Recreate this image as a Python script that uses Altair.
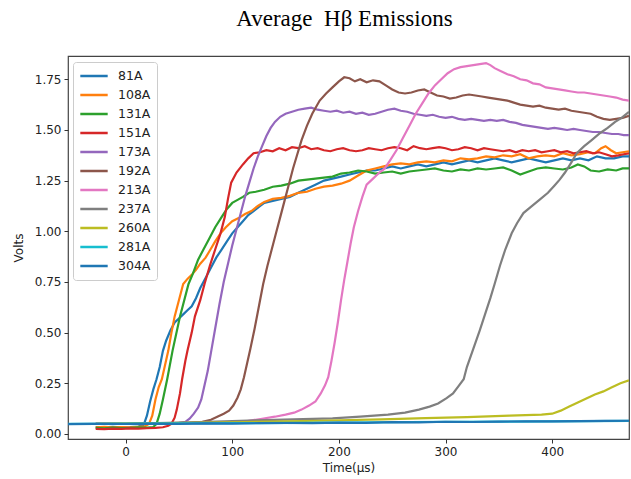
import altair as alt
import pandas as pd

SERIES = ["81A", "108A", "131A", "151A", "173A", "192A", "213A", "237A", "260A", "281A", "304A"]
COLORS = ["#1f77b4", "#ff7f0e", "#2ca02c", "#d62728", "#9467bd", "#8c564b",
          "#e377c2", "#7f7f7f", "#bcbd22", "#17becf", "#1f77b4"]
X_TICKS = [0, 100, 200, 300, 400]
Y_TICKS = [0.0, 0.25, 0.5, 0.75, 1.0, 1.25, 1.5, 1.75]

S81 = [(-28,0.034),(-20,0.032),(-12,0.035),(-4,0.033),(4,0.034),(12,0.036),(17,0.045),(20,0.09),(23,0.16),(26,0.22),
       (29,0.27),(32,0.33),(35,0.41),(38,0.46),(42,0.51),(46,0.55),(50,0.57),(54,0.59),(58,0.61),(62,0.63),(66,0.67),
       (70,0.72),(75,0.77),(80,0.82),(85,0.87),(90,0.91),(95,0.95),(100,0.99),(105,1.02),(110,1.05),(115,1.08),(120,1.10),
       (125,1.12),(130,1.14),(138,1.15),(146,1.16),(154,1.17),(162,1.19),(170,1.21),(178,1.23),(186,1.25),(194,1.26),
       (202,1.27),(210,1.28),(218,1.29),(226,1.30),(234,1.30),(242,1.31),(250,1.32),(258,1.31),(266,1.32),(274,1.33),
       (282,1.32),(290,1.33),(298,1.34),(306,1.33),(314,1.34),(322,1.35),(330,1.34),(338,1.35),(346,1.36),(354,1.35),
       (362,1.34),(370,1.35),(378,1.36),(386,1.35),(394,1.34),(402,1.35),(410,1.36),(418,1.35),(426,1.36),(434,1.35),
       (442,1.37),(450,1.36),(458,1.36),(466,1.37),(472,1.37)]
S108 = [(-28,0.033),(-20,0.035),(-12,0.033),(-4,0.034),(4,0.033),(12,0.035),(18,0.037),(22,0.05),(25,0.09),(28,0.17),
        (31,0.23),(34,0.27),(37,0.34),(40,0.41),(43,0.5),(46,0.58),(50,0.66),(54,0.74),(58,0.765),(62,0.785),(66,0.81),
        (70,0.84),(75,0.87),(79,0.905),(84,0.95),(89,0.99),(94,1.02),(100,1.05),(106,1.065),(112,1.085),(118,1.10),
        (124,1.125),(130,1.145),(138,1.16),(146,1.165),(154,1.175),(162,1.19),(170,1.195),(178,1.21),(186,1.22),
        (194,1.225),(202,1.235),(210,1.25),(218,1.275),(226,1.30),(234,1.31),(242,1.32),(250,1.33),(258,1.335),
        (266,1.33),(274,1.34),(282,1.345),(290,1.34),(298,1.35),(306,1.345),(314,1.36),(322,1.355),(330,1.36),
        (338,1.37),(346,1.365),(354,1.375),(362,1.37),(370,1.38),(378,1.36),(386,1.37),(394,1.375),(402,1.37),
        (410,1.385),(418,1.375),(426,1.38),(434,1.39),(440,1.385),(446,1.41),(450,1.42),(455,1.40),(460,1.385),
        (466,1.39),(472,1.395)]
S131 = [(-28,0.03),(-20,0.028),(-12,0.031),(-4,0.029),(4,0.03),(12,0.032),(20,0.031),(26,0.034),(29,0.05),(32,0.1),
        (35,0.17),(39,0.27),(44,0.41),(51,0.58),(55,0.66),(59,0.74),(63,0.79),(68,0.86),(73,0.91),(78,0.96),(84,1.02),
        (90,1.07),(95,1.11),(100,1.14),(105,1.155),(110,1.17),(116,1.19),(122,1.195),(130,1.205),(138,1.22),
        (146,1.225),(154,1.235),(162,1.25),(170,1.255),(178,1.26),(186,1.265),(194,1.27),(202,1.285),(210,1.29),
        (218,1.30),(226,1.295),(234,1.285),(242,1.29),(250,1.295),(258,1.285),(266,1.295),(274,1.30),(282,1.305),
        (290,1.31),(298,1.30),(306,1.295),(314,1.305),(322,1.30),(330,1.31),(338,1.305),(346,1.31),(354,1.315),
        (362,1.30),(370,1.28),(378,1.295),(386,1.31),(394,1.315),(402,1.31),(410,1.305),(418,1.315),(424,1.33),
        (430,1.32),(436,1.30),(444,1.295),(452,1.305),(460,1.30),(466,1.31),(472,1.31)]
S151 = [(-28,0.025),(-20,0.024),(-12,0.026),(-4,0.025),(4,0.027),(12,0.026),(20,0.028),(28,0.03),(35,0.033),(40,0.04),
        (43,0.05),(46,0.08),(48,0.12),(51,0.2),(53,0.27),(56,0.36),(58,0.41),(62,0.5),(65,0.58),(70,0.66),(74,0.74),
        (79,0.83),(84,0.91),(89,0.99),(93,1.07),(96,1.16),(99,1.24),(104,1.29),(110,1.33),(115,1.36),(120,1.385),
        (126,1.39),(132,1.40),(138,1.395),(144,1.41),(150,1.40),(156,1.415),(162,1.41),(168,1.42),(174,1.405),
        (180,1.41),(186,1.40),(192,1.395),(198,1.405),(204,1.41),(210,1.40),(216,1.395),(222,1.40),(228,1.41),
        (234,1.405),(240,1.40),(246,1.41),(252,1.415),(258,1.41),(264,1.40),(270,1.42),(276,1.41),(282,1.405),
        (288,1.41),(294,1.415),(300,1.41),(306,1.40),(312,1.405),(318,1.415),(324,1.41),(330,1.40),(336,1.41),
        (342,1.405),(348,1.40),(354,1.395),(360,1.40),(366,1.39),(372,1.40),(378,1.395),(384,1.40),(390,1.39),
        (396,1.395),(402,1.40),(408,1.39),(414,1.395),(420,1.385),(426,1.39),(432,1.395),(438,1.385),(444,1.39),
        (450,1.38),(456,1.37),(462,1.375),(467,1.38),(472,1.385)]
S173 = [(-28,0.05),(0,0.05),(20,0.052),(40,0.053),(50,0.055),(56,0.06),(60,0.075),(64,0.1),(68,0.13),(71,0.17),
        (74,0.24),(77,0.31),(80,0.4),(84,0.52),(88,0.64),(92,0.75),(96,0.84),(100,0.93),(104,1.01),(108,1.09),
        (112,1.17),(116,1.24),(120,1.31),(124,1.37),(128,1.42),(132,1.47),(136,1.51),(140,1.54),(145,1.565),
        (150,1.58),(156,1.59),(162,1.60),(168,1.605),(174,1.61),(180,1.60),(186,1.595),(192,1.59),(198,1.595),
        (204,1.585),(210,1.59),(216,1.58),(222,1.585),(228,1.575),(234,1.58),(240,1.59),(246,1.60),(252,1.605),
        (258,1.595),(264,1.59),(270,1.58),(276,1.575),(282,1.57),(288,1.575),(294,1.565),(300,1.56),(306,1.565),
        (312,1.555),(318,1.55),(324,1.555),(330,1.55),(336,1.545),(342,1.55),(348,1.545),(354,1.55),(360,1.54),
        (366,1.535),(372,1.525),(378,1.52),(384,1.515),(390,1.51),(396,1.505),(402,1.51),(408,1.505),(414,1.50),
        (420,1.505),(426,1.50),(432,1.495),(438,1.49),(444,1.49),(450,1.485),(456,1.48),(462,1.48),(467,1.475),
        (472,1.475)]
S192 = [(-28,0.05),(0,0.05),(30,0.052),(60,0.055),(72,0.06),(80,0.07),(86,0.085),(92,0.1),(97,0.115),(101,0.14),
        (105,0.18),(108,0.22),(111,0.28),(114,0.35),(117,0.42),(121,0.52),(125,0.63),(129,0.74),(133,0.83),(137,0.91),
        (141,0.99),(145,1.07),(149,1.15),(153,1.23),(157,1.31),(161,1.38),(165,1.45),(170,1.52),(175,1.58),
        (182,1.645),(188,1.68),(194,1.71),(200,1.74),(205,1.76),(210,1.755),(215,1.74),(220,1.75),(226,1.735),
        (232,1.745),(238,1.74),(244,1.72),(250,1.70),(256,1.685),(262,1.68),(268,1.685),(274,1.695),(280,1.70),
        (286,1.685),(292,1.67),(298,1.665),(304,1.655),(310,1.66),(316,1.67),(322,1.675),(328,1.67),(334,1.665),
        (340,1.66),(346,1.655),(352,1.65),(358,1.645),(364,1.635),(370,1.625),(376,1.62),(382,1.615),(388,1.62),
        (394,1.61),(400,1.605),(406,1.60),(412,1.605),(418,1.595),(424,1.59),(430,1.585),(436,1.58),(442,1.565),
        (448,1.555),(454,1.55),(460,1.555),(466,1.56),(472,1.57)]
S213 = [(-28,0.05),(20,0.05),(60,0.052),(90,0.055),(110,0.06),(128,0.075),(140,0.085),(150,0.095),(158,0.105),
        (165,0.12),(172,0.14),(178,0.16),(183,0.2),(187,0.24),(190,0.28),(193,0.36),(196,0.45),(199,0.55),(202,0.66),
        (205,0.76),(208,0.85),(211,0.94),(214,1.02),(218,1.1),(222,1.17),(226,1.23),(232,1.26),(238,1.29),(243,1.31),
        (248,1.35),(254,1.40),(260,1.46),(266,1.52),(272,1.58),(278,1.63),(284,1.68),(290,1.72),(296,1.75),(302,1.78),
        (308,1.80),(314,1.81),(320,1.815),(326,1.82),(332,1.825),(338,1.83),(342,1.82),(346,1.805),(352,1.79),
        (358,1.775),(364,1.765),(370,1.75),(376,1.745),(382,1.73),(388,1.725),(394,1.71),(400,1.705),(406,1.70),
        (412,1.695),(418,1.69),(424,1.685),(430,1.685),(436,1.68),(442,1.675),(448,1.67),(454,1.665),(460,1.66),
        (466,1.65),(472,1.645)]
S237 = [(-28,0.05),(20,0.052),(78,0.06),(130,0.068),(194,0.077),(220,0.085),(246,0.095),(262,0.105),(275,0.12),
        (285,0.135),(293,0.15),(301,0.177),(307,0.2),(312,0.235),(317,0.27),(320,0.33),(326,0.42),(332,0.51),
        (337,0.59),(342,0.67),(346,0.74),(351,0.83),(356,0.91),(362,0.99),(367,1.04),(373,1.09),(380,1.12),
        (388,1.155),(396,1.19),(402,1.225),(407,1.255),(412,1.29),(418,1.34),(423,1.385),(430,1.42),(437,1.45),
        (445,1.485),(452,1.51),(459,1.54),(465,1.56),(472,1.59)]
S260 = [(-28,0.05),(40,0.053),(112,0.059),(180,0.065),(240,0.072),(281,0.078),(320,0.083),(360,0.09),(390,0.095),
        (400,0.10),(408,0.115),(416,0.135),(424,0.155),(432,0.175),(440,0.195),(448,0.21),(456,0.23),(464,0.25),
        (472,0.265)]
S281 = [(-54,0.05),(0,0.051),(100,0.053),(200,0.056),(300,0.06),(400,0.062),(472,0.064)]
S304 = [(-54,0.048),(-30,0.05),(0,0.049),(25,0.051),(50,0.05),(75,0.052),(100,0.051),(125,0.053),(150,0.054),
        (175,0.053),(200,0.056),(225,0.055),(250,0.058),(275,0.057),(300,0.06),(325,0.059),(350,0.061),(375,0.062),
        (400,0.062),(425,0.063),(450,0.064),(472,0.065)]

ALL = [S81, S108, S131, S151, S173, S192, S213, S237, S260, S281, S304]

rows = []
for idx, (name, pts) in enumerate(zip(SERIES, ALL)):
    for t, v in pts:
        rows.append({"series": name, "t": t, "v": v, "k": idx})
df = pd.DataFrame(rows)

chart = alt.Chart(df).mark_line(strokeWidth=2.2, clip=True).encode(
    x=alt.X("t:Q", title="Time(μs)",
            scale=alt.Scale(domain=[-54, 472], nice=False, zero=False),
            axis=alt.Axis(values=X_TICKS, format="d")),
    y=alt.Y("v:Q", title="Volts",
            scale=alt.Scale(domain=[-0.025, 1.865], nice=False, zero=False),
            axis=alt.Axis(values=Y_TICKS, format=".2f")),
    color=alt.Color("series:N", scale=alt.Scale(domain=SERIES, range=COLORS),
                    legend=alt.Legend(title=None, orient="none", legendX=5, legendY=6,
                                      symbolType="stroke", symbolSize=750, symbolStrokeWidth=2.5,
                                      clipHeight=16, rowPadding=3, labelOffset=9,
                                      padding=6, strokeColor="#cccccc", fillColor="white",
                                      cornerRadius=3, labelFontSize=12.5, labelFont="DejaVu Sans",
                                      labelColor="#222222")),
    order=alt.Order("k:Q"),
).properties(
    width=561, height=383,
    autosize=alt.AutoSizeParams(type="none"),
    padding={"left": 68, "top": 56, "right": 2, "bottom": 40},
    title=alt.Title("Average\u00a0\u00a0Hβ Emissions", font="Liberation Serif", fontSize=23,
                    fontWeight="normal", color="black", anchor="middle", offset=25, dx=-4),
).configure_view(
    stroke="#444444", strokeWidth=1.2
).configure_axis(
    domain=False, grid=False, tickColor="#333333", tickSize=4,
    labelFont="DejaVu Sans", labelFontSize=12, labelColor="#222222", labelPadding=3,
    titleFont="DejaVu Sans", titleFontSize=12, titleFontWeight="normal", titleColor="#222222",
).configure_axisX(titlePadding=5).configure_axisY(titlePadding=9)

chart.save("out.html", embed_options={"renderer": "svg", "actions": False})
